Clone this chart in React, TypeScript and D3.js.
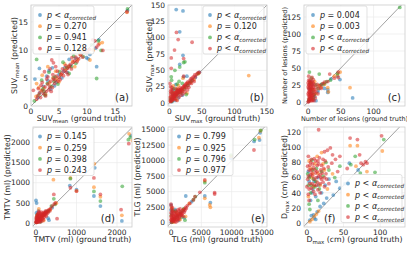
import React from "react";
import { scaleLinear, line } from "d3";

type Pt = [number, number];

// (a) SUVmean
const suvMeanBlue: Pt[] = [[0.7,4.8],[1.5,6.7],[3.2,6.3],[2.2,3.5],[3,4.5],[4,5],[5,5.6],[6,6.8],[7,7.2],[8,8.5],[9.9,8.6],[10.2,8.4],[11.7,7.0],[12.1,11.8],[11.5,10.3],[17.2,17.0],[1.2,1.5],[2.5,2.2],[3.5,3.0],[4.5,4.2],[5.5,5.0],[6.5,6.0],[3.8,6.8],[2.8,5.3],[9,9.5],[10.5,9.2],[6.8,8.3],[4.2,3.6],[1.6,2.4],[5.8,6.2]];
const suvMeanOrange: Pt[] = [[1.0,4.0],[1.8,2.7],[2.3,3.2],[3.3,4.1],[4.6,4.8],[5.4,5.6],[6.2,6.6],[7.4,7.9],[8.3,8.2],[10.5,8.2],[12.2,11.1],[12.7,11.3],[17.1,16.7],[3.0,7.0],[4.4,6.2],[6.0,7.5],[0.9,1.7],[2.6,2.1],[5.0,4.3],[7.8,7.0],[9.5,9.8],[11.1,10.0],[2.0,5.5],[3.9,5.0],[8.8,9.2],[1.4,3.3],[6.7,7.1]];
const suvMeanGreen: Pt[] = [[1.0,8.3],[1.4,2.0],[2.1,3.0],[2.9,4.0],[3.6,3.5],[4.3,5.2],[5.1,6.1],[6.4,6.9],[7.2,7.0],[8.0,7.6],[9.3,8.8],[11.7,4.9],[12.5,9.9],[12.0,11.6],[17.2,17.3],[1.9,4.6],[3.2,6.0],[5.7,7.8],[6.8,5.8],[10.8,10.9],[4.8,3.9],[2.5,1.9],[0.6,0.9],[7.6,8.9],[8.5,9.9],[2.3,2.6],[4.1,4.4]];
const suvMeanRed: Pt[] = [[0.4,2.8],[2.4,6.1],[3.7,8.2],[4.0,7.7],[11.4,11.6],[11.7,10.5],[12.8,9.9],[17.1,16.8],[1.0,1.2],[1.5,2.3],[2.0,2.8],[2.5,3.4],[3.0,3.9],[3.5,4.4],[4.0,4.8],[4.5,5.3],[5.0,5.1],[5.5,5.9],[6.0,6.3],[6.5,6.7],[7.0,7.4],[7.5,7.8],[8.0,8.7],[8.5,8.4],[3.2,2.9],[4.2,4.0],[5.2,4.7],[2.8,4.8],[3.9,5.6],[6.2,7.2],[1.8,3.7],[4.7,6.2],[7.3,8.6],[10.0,9.6],[11.0,11.8],[1.2,1.8],[1.7,1.5],[2.2,2.2],[2.7,2.6],[3.3,3.4],[3.8,3.3],[4.3,4.6],[4.8,4.4],[5.3,5.6],[5.8,5.4],[6.3,6.0],[6.8,7.0],[7.2,6.6],[7.8,8.1],[8.2,7.9],[8.8,9.1],[9.2,8.7],[2.0,4.2],[3.0,5.2],[3.4,6.6],[4.4,7.0],[5.6,6.6],[2.6,1.8],[3.6,2.6],[1.3,3.1],[6.6,5.6],[9.6,10.3],[10.4,10.1],[12.0,10.9]];
const suvMeanP = [null, "0.270", "0.941", "0.128"];
const suvMeanTicks = [0, 5, 10, 15];

// (b) SUVmax
const suvMaxBlue: Pt[] = [[10.6,143],[21,141],[16,109],[21,73],[16,59],[22,40],[27,41],[5,10],[8,12],[12,15],[15,17],[18,19],[25,25],[30,30],[35,35],[40,39],[3,5],[6,20],[10,28],[14,8],[20,12],[46,47],[9,4],[4,2]];
const suvMaxOrange: Pt[] = [[122,42],[21,38],[28,30],[13,22],[8,16],[17,18],[24,24],[33,32],[38,36],[45,45],[5,6],[10,11],[3,9],[6,26],[14,27],[20,20],[11,5],[2,3],[27,15]];
const suvMaxGreen: Pt[] = [[24,63],[16,55],[8.6,50],[3,40],[3.5,35],[12,29],[22,62],[5,15],[9,10],[13,14],[18,16],[23,22],[28,27],[33,33],[44,45],[2,6],[7,22],[15,33],[20,30],[4,3],[11,20],[26,13]];
const suvMaxRed: Pt[] = [[11,108],[13.6,97],[35,93],[22,68],[8,81],[3,69],[3,53],[22,41],[1,30],[46,47],[40,40],[36,35],[32,31],[29,27],[26,24],[23,21],[20,18],[17,16],[14,13],[11,10],[8,7],[6,5],[4,4],[2,2],[1,8],[2,14],[3,20],[5,12],[7,16],[9,6],[12,4],[15,9],[18,12],[21,14],[24,17],[28,20],[30,24],[34,30],[38,33],[2,25],[10,22],[16,20],[3,3],[5,6],[7,8],[9,11],[10,13],[12,14],[13,16],[15,18],[16,17],[18,21],[19,22],[21,24],[22,25],[24,27],[25,29],[27,30],[28,32],[31,34],[33,37],[35,38],[37,40],[39,43],[42,44],[44,46],[4,7],[6,10],[8,12],[10,16],[12,19],[14,21],[1,4],[2,10],[3,16],[4,24],[5,20],[6,14],[2,18],[7,11],[9,15],[11,17],[13,19],[17,23],[19,19],[23,26]];
const suvMaxP = [null, "0.120", null, null];
const suvMaxXTicks = [0, 50, 100, 150];
const suvMaxYTicks = [0, 25, 50, 75, 100, 125, 150];

// (c) number of lesions
const lesionBlue: Pt[] = [[68,6],[48.6,33],[35,34],[30,18],[30,14],[20,25],[3,5],[5,12],[8,3],[2,20],[10,8],[6,26],[15,15],[45,38],[1,1],[12,2],[4,30],[25,20]];
const lesionOrange: Pt[] = [[64,21],[49,44],[30,21],[31,15],[25,26],[3,10],[6,4],[8,18],[2,2],[12,12],[17,24],[4,28],[40,38],[20,22],[45,40],[10,30]];
const lesionGreen: Pt[] = [[140,139],[2,44],[17,41],[34,32],[3,28],[6,15],[8,6],[12,25],[20,26],[28,30],[1,3],[4,19],[9,11],[45,42],[15,20],[5,35],[24,27]];
const lesionRed: Pt[] = [[33,41],[46,44],[46,36],[1,38],[6,36],[25,29],[22,27],[1,1],[2,4],[3,8],[4,12],[5,16],[6,20],[7,24],[8,28],[2,14],[3,22],[4,2],[6,9],[9,14],[10,18],[12,22],[14,26],[18,24],[1,32],[3,32],[8,33],[5,6],[7,3],[2,25],[11,6],[16,20],[30,30],[40,35],[0,0],[1,5],[1,10],[1,15],[1,20],[1,25],[2,8],[2,18],[2,30],[3,4],[3,12],[3,16],[3,27],[4,6],[4,18],[4,24],[5,10],[5,22],[5,28],[6,2],[6,13],[6,30],[7,7],[7,18],[8,10],[8,22],[9,2],[9,26],[0,12],[0,22],[0,28],[10,12],[12,16],[15,12],[20,20]];
const lesionP = ["0.004", "0.003", null, null];
const lesionXTicks = [0, 50, 100];
const lesionYTicks = [0, 25, 50, 75, 100, 125];

// (d) TMTV
const tmtvBlue: Pt[] = [[2350,2170],[2120,50],[1450,1370],[1430,670],[1590,420],[1000,826],[835,930],[0,560],[15,495],[320,70],[50,100],[100,150],[150,200],[200,230],[250,280],[30,30],[80,40],[400,380],[10,250],[120,60],[60,300],[300,120]];
const tmtvOrange: Pt[] = [[2300,2215],[2380,2050],[2120,190],[1440,1470],[1430,890],[1590,650],[1000,800],[850,1120],[430,1075],[70,350],[110,120],[160,170],[210,220],[280,290],[40,50],[20,15],[350,330],[500,490],[190,60],[30,180]];
const tmtvGreen: Pt[] = [[2330,2130],[2280,2070],[2130,910],[1430,785],[1590,545],[850,1100],[440,600],[30,200],[90,110],[140,160],[190,210],[250,250],[310,300],[10,20],[60,60],[380,420],[470,460],[110,30],[20,120]];
const tmtvRed: Pt[] = [[2290,1970],[2100,330],[1430,1120],[1590,710],[1000,790],[850,875],[440,710],[360,355],[520,107],[5,10],[20,30],[35,50],[50,70],[70,90],[90,110],[110,130],[130,150],[150,170],[170,190],[190,210],[210,230],[230,250],[260,270],[290,300],[320,330],[340,300],[60,150],[40,210],[25,180],[100,60],[150,100],[200,140],[250,170],[80,250],[120,230],[180,260],[10,90],[400,420],[450,470],[480,500],[15,60],[30,110],[45,130],[60,40],[75,180],[85,200],[95,60],[105,180],[115,90],[125,270],[140,200],[160,120],[175,230],[185,80],[200,190],[220,260],[240,200],[270,230],[300,260],[20,150],[50,240],[70,280],[10,40],[30,80],[0,20],[5,130],[40,20],[140,40],[90,20],[240,300]];
const tmtvP = ["0.145", "0.259", "0.398", "0.243"];
const tmtvXTicks = [0, 1000, 2000];
const tmtvYTicks = [0, 500, 1000, 1500, 2000];

// (e) TLG
const tlgBlue: Pt[] = [[14700,14500],[14600,13330],[13700,13100],[9890,10380],[8430,8300],[6490,3220],[5570,4300],[2430,4300],[0,2850],[0,2040],[100,1500],[300,200],[600,700],[1000,1100],[1500,1400],[2000,1900],[3400,3390],[700,2100],[1300,400],[2200,800],[50,100]];
const tlgOrange: Pt[] = [[14750,14800],[14500,13700],[9900,10700],[8430,8600],[6380,2850],[6490,2470],[5570,3920],[5570,6700],[3000,3100],[2000,2100],[1200,1300],[600,650],[200,300],[100,2400],[1500,500],[2400,1000],[900,1600],[400,100]];
const tlgGreen: Pt[] = [[14800,14900],[13800,13400],[9890,10900],[8500,8450],[5570,6450],[2100,2200],[1600,1700],[1100,1000],[500,600],[150,100],[3700,3700],[4000,4200],[700,1800],[1800,900],[300,2000],[50,1200],[2300,400]];
const tlgRed: Pt[] = [[13680,11720],[5570,6880],[7190,4840],[7190,4620],[4760,4890],[3680,3660],[3950,4190],[0,3000],[50,2700],[100,50],[200,250],[350,400],[500,550],[700,700],[900,900],[1100,1150],[1300,1350],[1500,1550],[1700,1700],[1900,1950],[2100,2150],[2400,2450],[2700,2750],[3100,3100],[300,1800],[200,1200],[500,1600],[800,1900],[1200,2100],[1500,2200],[1000,500],[1400,800],[1800,1200],[600,200],[2200,1700],[400,800],[700,1200],[150,600],[50,400],[100,900],[150,1400],[200,1900],[250,2400],[300,600],[400,1100],[450,300],[550,900],[650,1400],[750,500],[850,1200],[950,1700],[1050,800],[1150,1500],[1250,600],[1350,1900],[1600,1200],[1700,1400],[1900,1500],[2000,1000],[2300,2000],[0,1000],[0,1600],[0,500],[80,2200],[1400,1000],[1100,300],[800,100],[2500,2300]];
const tlgP = ["0.799", "0.925", "0.796", "0.977"];
const tlgXTicks = [0, 5000, 10000, 15000];
const tlgYTicks = [0, 2500, 5000, 7500, 10000, 12500, 15000];

// (f) Dmax
const dmaxBlue: Pt[] = [[4,4],[9,11],[14,15],[18,22],[23,26],[27,33],[36,37],[45,46],[52,52],[58,79],[10,7],[6,10],[12,5],[3,55],[8,45],[15,60],[20,40],[25,50],[2,68],[5,30],[30,58],[12,35],[40,55],[70,70],[4,62],[10,55],[16,50],[7,40]];
const dmaxOrange: Pt[] = [[4,2],[7,5],[10,9],[13,12],[16,16],[59,102],[69,102],[103,95],[20,93],[67,75],[82,68],[2,35],[6,60],[11,78],[18,50],[24,70],[3,82],[8,65],[28,45],[14,88],[35,65],[5,72],[9,48],[15,66],[22,78]];
const dmaxGreen: Pt[] = [[105,110],[66,88],[73,66],[60,77],[93,67],[4,18],[2,50],[5,40],[9,58],[13,72],[17,45],[22,62],[26,80],[3,25],[7,83],[15,30],[30,70],[38,60],[45,75],[1,65],[11,48],[3,60],[8,70],[12,55],[20,68],[6,50]];
const dmaxRed: Pt[] = [[16,123],[59,112],[69,110],[102,115],[32,99],[28,96],[24,94],[72,90],[82,79],[80,81],[74,79],[55,72],[45,88],[39,84],[34,79],[77,77],[2,88],[4,76],[6,70],[8,62],[10,85],[12,66],[14,54],[16,78],[18,64],[20,58],[22,84],[24,48],[1,58],[3,45],[5,64],[7,52],[9,73],[11,38],[13,60],[15,82],[19,70],[26,65],[30,52],[35,90],[42,68],[3,30],[1,75],[2,62],[3,70],[4,52],[5,80],[6,46],[7,66],[8,78],[9,42],[10,58],[11,70],[12,82],[13,50],[14,68],[15,44],[16,62],[17,86],[18,52],[19,60],[20,76],[21,66],[22,54],[23,72],[25,82],[27,58],[29,74],[0,48],[2,38],[6,84],[10,50],[14,76],[18,40],[24,60]];
const dmaxP = [null, null, null, null];
const dmaxXTicks = [0, 50, 100];
const dmaxYTicks = [0, 20, 40, 60, 80, 100, 120];

const tab10 = ["#1f77b4", "#ff7f0e", "#2ca02c", "#d62728"];
const ink = "#262626";
const tickSize = 7.5;

// label parts: [text, isSubscript]
type Part = [string, boolean?];

const panels = [
  {
    key: "a", frame: [31, 5, 132, 106], xDomain: [0, 18], yDomain: [0, 18],
    xTicks: suvMeanTicks, yTicks: suvMeanTicks,
    series: [suvMeanBlue, suvMeanOrange, suvMeanGreen, suvMeanRed], pValues: suvMeanP,
    xLabel: [["SUV"], ["mean", true], [" (ground truth)"]] as Part[],
    yLabel: [["SUV"], ["mean", true], [" (predicted)"]] as Part[],
    labelSize: 7.8, yLabelX: 17, xLabelY: 121,
    legend: [33, 6], letter: [129, 101, "end"],
  },
  {
    key: "b", frame: [168, 5, 267, 106], xDomain: [-2, 150], yDomain: [-4.6, 150],
    xTicks: suvMaxXTicks, yTicks: suvMaxYTicks,
    series: [suvMaxBlue, suvMaxOrange, suvMaxGreen, suvMaxRed], pValues: suvMaxP,
    xLabel: [["SUV"], ["max", true], [" (ground truth)"]] as Part[],
    yLabel: [["SUV"], ["max", true], [" (predicted)"]] as Part[],
    labelSize: 7.8, yLabelX: 152, xLabelY: 121,
    legend: [203, 6], letter: [264, 101, "end"],
  },
  {
    key: "c", frame: [304, 5, 405, 106], xDomain: [-6.3, 148], yDomain: [-5.9, 142.6],
    xTicks: lesionXTicks, yTicks: lesionYTicks,
    series: [lesionBlue, lesionOrange, lesionGreen, lesionRed], pValues: lesionP,
    xLabel: [["Number of lesions (ground truth)"]] as Part[],
    yLabel: [["Number of lesions (predicted)"]] as Part[],
    labelSize: 6.5, yLabelX: 287, xLabelY: 121,
    legend: [306, 6], letter: [401, 101, "end"],
  },
  {
    key: "d", frame: [33, 127, 132, 227], xDomain: [-74, 2370], yDomain: [-100, 2385],
    xTicks: tmtvXTicks, yTicks: tmtvYTicks,
    series: [tmtvBlue, tmtvOrange, tmtvGreen, tmtvRed], pValues: tmtvP,
    xLabel: [["TMTV (ml) (ground truth)"]] as Part[],
    yLabel: [["TMTV (ml) (predicted)"]] as Part[],
    labelSize: 7.8, yLabelX: 10, xLabelY: 242,
    legend: [33, 127.5], letter: [115, 222, "end"],
  },
  {
    key: "e", frame: [168, 127, 267, 227], xDomain: [-500, 15830], yDomain: [-700, 15430],
    xTicks: tlgXTicks, yTicks: tlgYTicks,
    series: [tlgBlue, tlgOrange, tlgGreen, tlgRed], pValues: tlgP,
    xLabel: [["TLG (ml) (ground truth)"]] as Part[],
    yLabel: [["TLG (ml) (predicted)"]] as Part[],
    labelSize: 7.8, yLabelX: 140, xLabelY: 242,
    legend: [172, 127.5], letter: [265, 222, "end"],
  },
  {
    key: "f", frame: [304, 127, 405, 227], xDomain: [-4, 134], yDomain: [-5, 126.6],
    xTicks: dmaxXTicks, yTicks: dmaxYTicks,
    series: [dmaxBlue, dmaxOrange, dmaxGreen, dmaxRed], pValues: dmaxP,
    xLabel: [["D"], ["max", true], [" (cm) (ground truth)"]] as Part[],
    yLabel: [["D"], ["max", true], [" (cm) (predicted)"]] as Part[],
    labelSize: 7.8, yLabelX: 287, xLabelY: 242,
    legend: [341, 174.5], letter: [324, 222, "start"],
  },
];

function Label({ parts, size }: { parts: Part[]; size: number }) {
  return (
    <>
      {parts.map(([t, sub], i) => {
        const prevSub = i > 0 && parts[i - 1][1];
        return (
          <tspan key={i} fontSize={sub ? size * 0.7 : size} dy={sub ? size * 0.2 : prevSub ? -size * 0.2 : 0}>
            {t}
          </tspan>
        );
      })}
    </>
  );
}

function LegendText({ p, x, y }: { p: string | null; x: number; y: number }) {
  return (
    <text x={x} y={y} fontSize={8} fill={ink}>
      <tspan fontStyle="italic">p</tspan>
      {p ? (
        <tspan>{` = ${p}`}</tspan>
      ) : (
        <>
          <tspan>{" < "}</tspan>
          <tspan fontStyle="italic">α</tspan>
          <tspan fontStyle="italic" fontSize={5.6} dy={1.8}>corrected</tspan>
        </>
      )}
    </text>
  );
}

function Panel({ cfg }: { cfg: any }) {
  const [L, T, R, B] = cfg.frame;
  const x = scaleLinear().domain(cfg.xDomain).range([L, R]);
  const y = scaleLinear().domain(cfg.yDomain).range([B, T]);
  const lo = Math.min(cfg.xDomain[0], cfg.yDomain[0]);
  const hi = Math.max(cfg.xDomain[1], cfg.yDomain[1]);
  const diag = line<number>().x((d) => x(d)).y((d) => y(d))([lo, hi]);
  const [lx, ly] = cfg.legend;
  const clipId = `clip-${cfg.key}`;

  return (
    <g>
      <clipPath id={clipId}>
        <rect x={L} y={T} width={R - L} height={B - T} />
      </clipPath>
      {cfg.xTicks.map((t: number) => (
        <line key={`gx${t}`} x1={x(t)} x2={x(t)} y1={T} y2={B} stroke="#ebebeb" strokeWidth={0.7} />
      ))}
      {cfg.yTicks.map((t: number) => (
        <line key={`gy${t}`} x1={L} x2={R} y1={y(t)} y2={y(t)} stroke="#ebebeb" strokeWidth={0.7} />
      ))}
      <g clipPath={`url(#${clipId})`}>
        <path d={diag ?? ""} stroke="#8a8a8a" strokeWidth={0.8} fill="none" />
        {cfg.series.map((pts: Pt[], si: number) =>
          pts.map((d, i) => (
            <circle key={`${si}-${i}`} cx={x(d[0])} cy={y(d[1])} r={1.9} fill={tab10[si]} fillOpacity={0.55} />
          ))
        )}
      </g>
      <rect x={L} y={T} width={R - L} height={B - T} fill="none" stroke="#cccccc" strokeWidth={0.8} />
      {cfg.xTicks.map((t: number) => (
        <text key={`tx${t}`} x={x(t)} y={B + 7.5} fontSize={tickSize} textAnchor="middle" fill={ink}>
          {String(t)}
        </text>
      ))}
      {cfg.yTicks.map((t: number) => (
        <text key={`ty${t}`} x={L - 3} y={y(t) + 2.7} fontSize={tickSize} textAnchor="end" fill={ink}>
          {String(t)}
        </text>
      ))}
      <text x={(L + R) / 2} y={cfg.xLabelY} textAnchor="middle" fill={ink} fontSize={cfg.labelSize}>
        <Label parts={cfg.xLabel} size={cfg.labelSize} />
      </text>
      <text
        transform={`translate(${cfg.yLabelX},${(T + B) / 2}) rotate(-90)`}
        textAnchor="middle"
        fill={ink}
        fontSize={cfg.labelSize}
      >
        <Label parts={cfg.yLabel} size={cfg.labelSize} />
      </text>
      <rect x={lx} y={ly} width={61} height={48} rx={2} fill="#fff" fillOpacity={0.85} stroke="#d5d5d5" strokeWidth={0.7} />
      {cfg.pValues.map((p: string | null, i: number) => (
        <g key={`lg${i}`}>
          <circle cx={lx + 7} cy={ly + 9 + i * 11.2} r={1.9} fill={tab10[i]} fillOpacity={0.6} />
          <LegendText p={p} x={lx + 14} y={ly + 11.8 + i * 11.2} />
        </g>
      ))}
      <text x={cfg.letter[0]} y={cfg.letter[1]} textAnchor={cfg.letter[2]} fontSize={10} fill={ink}>
        {`(${cfg.key})`}
      </text>
    </g>
  );
}

export default function App() {
  return (
    <svg
      width={407}
      height={266}
      style={{ position: "absolute", left: 0, top: 0, fontFamily: "'DejaVu Sans', sans-serif" }}
    >
      <rect width={407} height={266} fill="#fff" />
      {panels.map((cfg) => (
        <Panel key={cfg.key} cfg={cfg} />
      ))}
    </svg>
  );
}
